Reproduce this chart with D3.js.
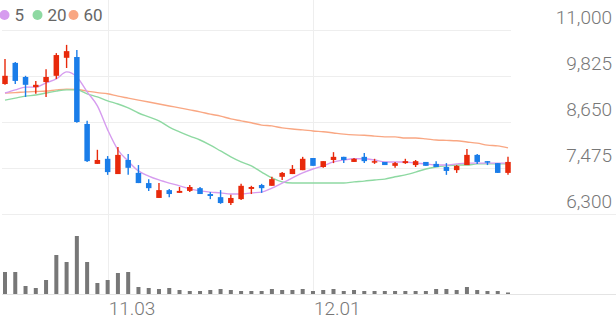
<!DOCTYPE html>
<html>
<head>
<meta charset="utf-8">
<script src="https://cdn.jsdelivr.net/npm/d3@7"></script>
<style>
  body { margin: 0; background: #fff; }
  svg { display: block; font-family: Roboto, "Noto Sans", sans-serif; }
</style>
</head>
<body>
<svg id="drawing_region"></svg>
<script>
// trading days shown on the chart
const dates = [
  "10.20","10.21","10.22","10.23","10.24","10.27","10.28","10.29","10.30","10.31",
  "11.03","11.04","11.05","11.06","11.07","11.10","11.11","11.12","11.13","11.14",
  "11.17","11.18","11.19","11.20","11.21","11.24","11.25","11.26","11.27","11.28",
  "12.01","12.02","12.03","12.04","12.05","12.08","12.09","12.10","12.11","12.12",
  "12.15","12.16","12.17","12.18","12.19","12.22","12.23","12.24","12.26","12.29"
];
const opens = [
  9620,10160,9800,9540,9670,9830,10290,10310,8600,7580,
  7710,7320,7680,7350,7090,6710,6910,6840,6890,6960,
  6810,6730,6580,6680,6940,7040,7020,7250,7320,7420,
  7730,7500,7680,7760,7630,7760,7630,7630,7530,7600,
  7550,7630,7580,7500,7420,7550,7810,7650,7600,7350
];
const highs = [
  10260,10180,9830,9700,10000,10410,10620,10490,8680,7940,
  7780,8010,7830,7550,7190,7090,6940,6990,7040,6990,
  6860,6910,6790,7070,7020,7070,7250,7370,7550,7760,
  7730,7650,7880,7760,7730,7860,7710,7630,7630,7710,
  7680,7630,7650,7600,7550,7960,7830,7650,7600,7760
];
const lows = [
  9600,9620,9290,9370,9290,9750,10030,8630,7630,7580,
  7300,7320,7300,7090,6890,6710,6730,6840,6860,6810,
  6680,6560,6530,6660,6810,6840,7020,7170,7320,7420,
  7530,7480,7600,7600,7630,7600,7580,7550,7480,7580,
  7500,7530,7500,7300,7350,7550,7580,7550,7350,7300
];
const closes = [
  9830,9700,9600,9600,9800,10360,10460,8650,7650,7680,
  7370,7810,7480,7090,6960,6910,6810,6890,6990,6810,
  6760,6580,6710,7020,6990,6960,7190,7350,7450,7710,
  7530,7650,7760,7680,7710,7650,7650,7550,7600,7650,
  7650,7530,7500,7400,7530,7810,7630,7630,7350,7630
];
const volumes = [
  440000,440000,160000,120000,280000,780000,640000,1160000,640000,220000,
  280000,420000,440000,140000,120000,100000,120000,80000,60000,60000,
  80000,100000,80000,60000,60000,60000,100000,80000,80000,100000,
  60000,80000,100000,60000,80000,60000,60000,60000,60000,60000,
  60000,60000,100000,100000,80000,140000,80000,60000,60000,30000
];
const ma5 = [
  9390,9470,9540,9540,9650,9750,9930,9800,9420,9060,
  8450,7940,7650,7400,7270,7170,7090,7020,6940,6890,
  6860,6840,6810,6810,6840,6860,6960,7090,7220,7350,
  7450,7530,7630,7680,7710,7710,7680,7630,7630,7630,
  7600,7580,7550,7550,7580,7600,7600,7600,7600,7600
];
const ma20 = [
  9210,9260,9310,9340,9390,9440,9470,9470,9370,9290,
  9190,9110,9010,8880,8780,8680,8520,8400,8290,8190,
  8060,7910,7760,7630,7530,7370,7220,7120,7090,7090,
  7090,7090,7090,7090,7120,7140,7170,7190,7250,7300,
  7370,7450,7500,7530,7550,7550,7580,7580,7580,7580
];
const ma60 = [
  9390,9400,9420,9430,9440,9470,9490,9480,9440,9400,
  9370,9310,9260,9210,9160,9110,9060,9010,8960,8910,
  8850,8800,8730,8680,8630,8570,8550,8500,8470,8450,
  8420,8400,8370,8340,8320,8310,8290,8270,8270,8240,
  8240,8220,8190,8180,8170,8140,8110,8060,8040,7990
];
const priceTicks = [6300, 7475, 8650, 9825, 11000];
const dateTicks = ["11.03", "12.01"];
const maNames = ["5", "20", "60"];
const maColors = ["#d69cef", "#8ed9a2", "#f9a783"];

const width = 616, height = 321;
const plotLeft = 2, plotRight = 511;

const svg = d3.select("#drawing_region")
    .attr("width", width)
    .attr("height", height);

const x = d3.scalePoint()
    .domain(dates)
    .range([5, 508]);

const y = d3.scaleLinear()
    .domain([6300, 11000])
    .range([214, 30]);

const yVol = d3.scaleLinear()
    .domain([0, 1580000])
    .range([294, 215]);

// grid
svg.append("g")
    .selectAll("line")
    .data(priceTicks)
    .join("line")
    .attr("x1", plotLeft)
    .attr("x2", d => d === 6300 ? width : plotRight)
    .attr("y1", d => Math.round(y(d)) + 0.5)
    .attr("y2", d => Math.round(y(d)) + 0.5)
    .attr("stroke", "#eeeeee");

svg.append("line")
    .attr("x1", plotLeft).attr("x2", width)
    .attr("y1", 294.5).attr("y2", 294.5)
    .attr("stroke", "#e4e4e4");

svg.append("g")
    .selectAll("line")
    .data(dateTicks)
    .join("line")
    .attr("x1", d => Math.round(x(d)) + 0.5)
    .attr("x2", d => Math.round(x(d)) + 0.5)
    .attr("y1", 0)
    .attr("y2", 294)
    .attr("stroke", "#eeeeee");

// price labels
svg.append("g")
    .selectAll("text")
    .data(priceTicks)
    .join("text")
    .attr("x", 612)
    .attr("y", d => y(d) - 6)
    .attr("text-anchor", "end")
    .attr("font-size", "19px")
    .attr("font-weight", 300)
    .attr("fill", "#777")
    .text(d => d3.format(",")(d));

// date labels
svg.append("g")
    .selectAll("text")
    .data(dateTicks)
    .join("text")
    .attr("x", d => x(d) + 1)
    .attr("y", 315)
    .attr("font-size", "19px")
    .attr("font-weight", 300)
    .attr("fill", "#777")
    .text(d => d);

// volume
svg.append("g")
    .selectAll("rect")
    .data(volumes)
    .join("rect")
    .attr("x", (d, i) => x(dates[i]) - 2)
    .attr("y", d => yVol(d))
    .attr("width", 4)
    .attr("height", d => 294 - yVol(d))
    .attr("fill", "#777");

// moving averages
const maSeries = [ma5, ma20, ma60];
const line = d3.line()
    .x((d, i) => x(dates[i]))
    .y(d => y(d))
    .curve(d3.curveMonotoneX);

svg.append("g")
    .selectAll("path")
    .data(maSeries.slice().reverse())
    .join("path")
    .attr("d", line)
    .attr("fill", "none")
    .attr("stroke", (d, i) => maColors[2 - i])
    .attr("stroke-width", 1.4);

// candles
const up = "#e8290b", down = "#1a7de9";
const candles = svg.append("g")
    .selectAll("g")
    .data(dates)
    .join("g");

candles.append("line")
    .attr("x1", d => x(d))
    .attr("x2", d => x(d))
    .attr("y1", (d, i) => y(highs[i]))
    .attr("y2", (d, i) => y(lows[i]))
    .attr("stroke", (d, i) => closes[i] >= opens[i] ? up : down)
    .attr("stroke-width", 1.4);

candles.append("rect")
    .attr("x", d => x(d) - 2.75)
    .attr("width", 5.5)
    .attr("y", (d, i) => y(Math.max(opens[i], closes[i])))
    .attr("height", (d, i) => Math.max(1.5, Math.abs(y(opens[i]) - y(closes[i]))))
    .attr("fill", (d, i) => closes[i] >= opens[i] ? up : down);

// legend
const legend = svg.append("g");
const legendX = [4.5, 37.5, 73.5];
legend.selectAll("circle")
    .data(maNames)
    .join("circle")
    .attr("cx", (d, i) => legendX[i])
    .attr("cy", 15)
    .attr("r", 5)
    .attr("fill", (d, i) => maColors[i]);

legend.selectAll("text")
    .data(maNames)
    .join("text")
    .attr("x", (d, i) => legendX[i] + 10)
    .attr("y", 21)
    .attr("font-size", "17px")
    .attr("fill", "#666")
    .text(d => d);
</script>
</body>
</html>
